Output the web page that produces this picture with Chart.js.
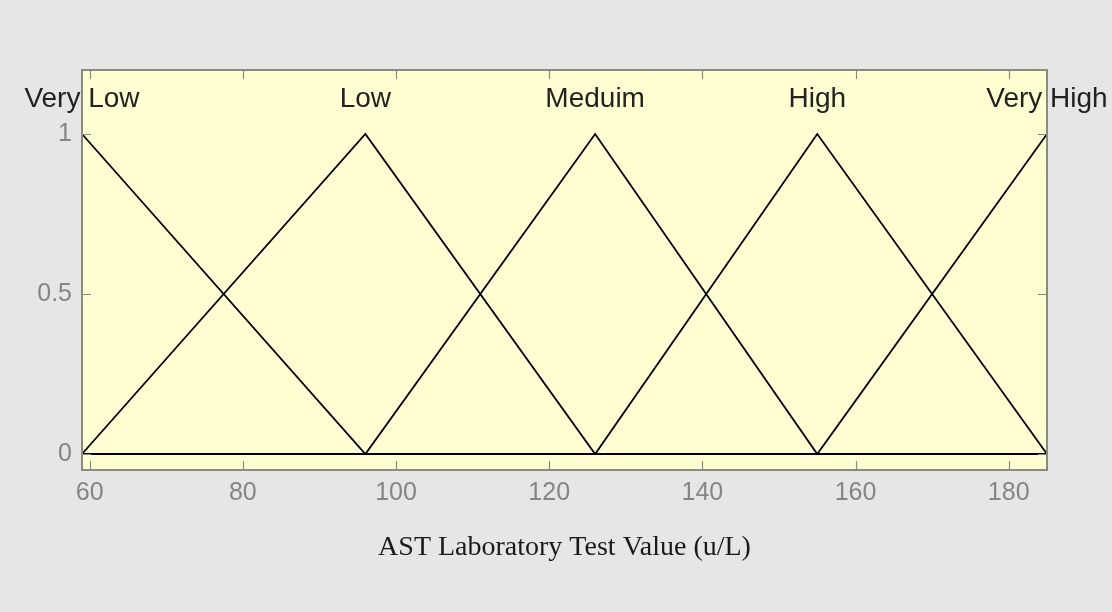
<!DOCTYPE html>
<html>
<head>
<meta charset="utf-8">
<script src="https://cdn.jsdelivr.net/npm/chart.js@4/dist/chart.umd.min.js"></script>
<style>
  html, body { margin: 0; padding: 0; background: #e6e6e6; }
  #wrap { width: 1112px; height: 612px; }
</style>
</head>
<body>
<div id="wrap"><canvas id="myChart" width="1112" height="612"></canvas></div>
<script>
// membership functions, values at the breakpoints
const mfNames   = ['Very Low', 'Low', 'Meduim', 'High', 'Very High'];
const breakX    = [59, 96, 126, 155, 185];
const veryLow   = [1, 0, 0, 0, 0];
const low       = [0, 1, 0, 0, 0];
const medium    = [0, 0, 1, 0, 0];
const high      = [0, 0, 0, 1, 0];
const veryHigh  = [0, 0, 0, 0, 1];
const xTickVals = [60, 80, 100, 120, 140, 160, 180];
const yTickVals = [0, 0.5, 1];
const peakX     = [59, 96, 126, 155, 185];

const series = [veryLow, low, medium, high, veryHigh];

/* box, yellow area, inward ticks, mf names */
const matlabLook = {
  id: 'matlabLook',
  beforeDraw(chart) {
    const { ctx, chartArea: a } = chart;
    ctx.save();
    ctx.fillStyle = '#ffffd2';
    ctx.fillRect(a.left, a.top, a.right - a.left, a.bottom - a.top);
    ctx.restore();
  },
  afterDraw(chart) {
    const { ctx, chartArea: a, scales } = chart;
    ctx.save();
    ctx.strokeStyle = '#8a8a7e';
    ctx.lineWidth = 2;
    ctx.strokeRect(a.left, a.top, a.right - a.left, a.bottom - a.top);
    ctx.lineWidth = 1.2;
    ctx.beginPath();
    xTickVals.forEach(v => {
      const px = Math.round(scales.x.getPixelForValue(v)) + 0.5;
      ctx.moveTo(px, a.bottom); ctx.lineTo(px, a.bottom - 9);
      ctx.moveTo(px, a.top); ctx.lineTo(px, a.top + 9);
    });
    yTickVals.forEach(v => {
      const py = Math.round(scales.y.getPixelForValue(v)) + 0.5;
      ctx.moveTo(a.left, py); ctx.lineTo(a.left + 9, py);
      ctx.moveTo(a.right, py); ctx.lineTo(a.right - 9, py);
    });
    ctx.stroke();

    ctx.fillStyle = '#222';
    ctx.font = '28px "Liberation Sans", Arial, sans-serif';
    ctx.textAlign = 'center';
    ctx.textBaseline = 'middle';
    mfNames.forEach((n, i) => {
      ctx.fillText(n, scales.x.getPixelForValue(peakX[i]), scales.y.getPixelForValue(1.11));
    });
    ctx.restore();
  }
};

let ctx = document.getElementById('myChart').getContext('2d');
let myChart = new Chart(ctx, {
  type: 'line',
  data: {
    datasets: series.map((s, i) => ({
      label: mfNames[i],
      data: breakX.map((x, j) => ({ x: x, y: s[j] })),
      borderColor: '#000',
      borderWidth: 1.8,
      pointRadius: 0,
      tension: 0,
      fill: false
    }))
  },
  options: {
    responsive: false,
    animation: false,
    layout: { padding: { left: 0, right: 65, top: 70, bottom: 0 } },
    plugins: { legend: { display: false }, tooltip: { enabled: false } },
    scales: {
      x: {
        type: 'linear',
        min: 59,
        max: 185,
        afterBuildTicks: s => { s.ticks = xTickVals.map(v => ({ value: v })); },
        afterFit: s => { s.height = 142; },
        grid: { display: false, drawTicks: false },
        border: { display: false },
        ticks: {
          color: '#858585',
          padding: 8,
          font: { family: '"Liberation Sans", Arial, sans-serif', size: 25 }
        },
        title: {
          display: true,
          text: 'AST Laboratory Test Value (u/L)',
          color: '#1a1a1a',
          padding: { top: 0, bottom: 48 },
          font: { family: '"Liberation Serif", "Times New Roman", serif', size: 28 }
        }
      },
      y: {
        min: -0.05,
        max: 1.2,
        afterBuildTicks: s => { s.ticks = yTickVals.map(v => ({ value: v })); },
        afterFit: s => { s.width = 82; },
        grid: { display: false, drawTicks: false },
        border: { display: false },
        ticks: {
          color: '#858585',
          padding: 10,
          callback: v => String(v),
          font: { family: '"Liberation Sans", Arial, sans-serif', size: 25 }
        }
      }
    }
  },
  plugins: [matlabLook]
});
</script>
</body>
</html>
